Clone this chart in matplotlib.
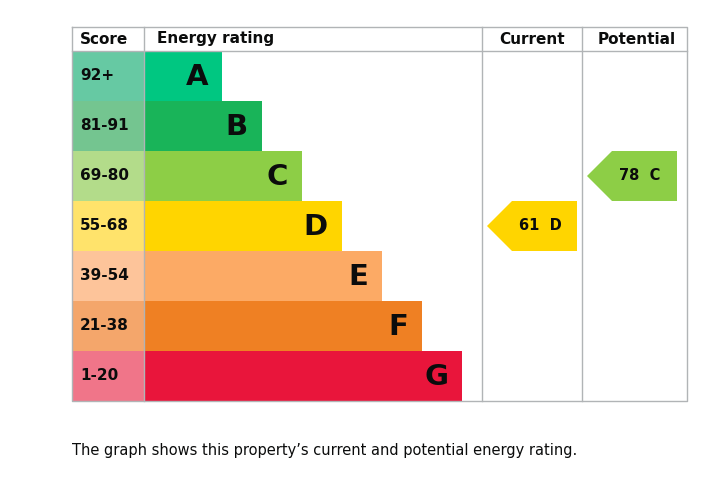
import matplotlib.pyplot as plt
from matplotlib.patches import Rectangle, Polygon

bands = ['A', 'B', 'C', 'D', 'E', 'F', 'G']
scores = ['92+', '81-91', '69-80', '55-68', '39-54', '21-38', '1-20']
bar_colors = ['#00c781', '#19b459', '#8dce46', '#ffd500', '#fcaa65', '#ef8023', '#e9153b']
score_colors = ['#66c9a3', '#74c590', '#b3dc8a', '#ffe36b', '#fdc49a', '#f4a66b', '#f07589']
current = (61, 'D')
potential = (78, 'C')

fig = plt.figure(figsize=(7.22, 4.88), dpi=100)
ax = fig.add_axes([0, 0, 1, 1])
ax.set_xlim(0, 722)
ax.set_ylim(488, 0)
ax.axis('off')

grey = '#b1b4b6'
left, right, top, head, rowh = 72, 687, 27, 51, 50
bottom = head + rowh * len(bands)
ax.plot([left, right, right, left, left], [top, top, bottom, bottom, top], color=grey, lw=1)
ax.plot([left, right], [head, head], color=grey, lw=1)
for x in [144, 482, 582]:
    ax.plot([x, x], [top, bottom], color=grey, lw=1)

hdr = dict(fontsize=11, fontweight='bold', va='center', color='#0b0c0c')
ax.text(80, 39, 'Score', **hdr)
ax.text(157, 39, 'Energy rating', **hdr)
ax.text(532, 39, 'Current', ha='center', **hdr)
ax.text(637, 39, 'Potential', ha='center', **hdr)

for i, (b, s) in enumerate(zip(bands, scores)):
    y0 = head + i * rowh
    ax.add_patch(Rectangle((left, y0), 144 - left, rowh, color=score_colors[i], lw=0))
    ax.text(80, y0 + rowh / 2, s, fontsize=11, fontweight='bold', va='center', color='#0b0c0c')
    x1 = 222 + 40 * i
    ax.add_patch(Rectangle((144, y0), x1 - 144, rowh, color=bar_colors[i], lw=0))
    ax.text(x1 - 14, y0 + rowh / 2 + 1, b, fontsize=21, fontweight='bold', ha='right', va='center', color='#0b0c0c')

def arrow(x0, x1, value, band):
    i = bands.index(band)
    y0 = head + i * rowh
    pts = [(x0, y0 + rowh / 2), (x0 + 25, y0), (x1, y0), (x1, y0 + rowh), (x0 + 25, y0 + rowh)]
    ax.add_patch(Polygon(pts, closed=True, color=bar_colors[i], lw=0))
    ax.text((x0 + x1) / 2 + 8, y0 + rowh / 2, f'{value}  {band}', fontsize=10.5, fontweight='bold',
            ha='center', va='center', color='#0b0c0c')

arrow(487, 577, *current)
arrow(587, 677, *potential)

ax.text(72, 451, "The graph shows this property\u2019s current and potential energy rating.",
        fontsize=10.5, va='center', color='#0b0c0c')

fig.savefig('out.png', dpi=100)
